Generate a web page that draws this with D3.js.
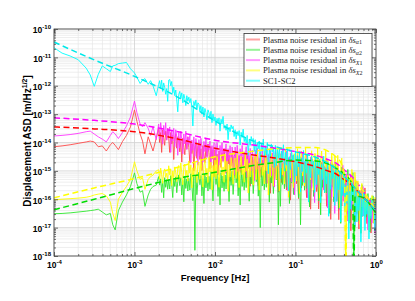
<!DOCTYPE html>
<html><head><meta charset="utf-8">
<script src="https://cdn.jsdelivr.net/npm/d3@7"></script>
<style>body{margin:0;background:#fff}svg{display:block}</style>
</head><body>
<svg id="c" width="415" height="301"></svg>
<script>
// ---------- DATA (log10 of frequency in Hz, log10 of ASD in m/Hz^1/2) ----------
const lowLogF = [-4,-3.9,-3.8,-3.7,-3.6,-3.55,-3.5,-3.45,-3.4,-3.35,-3.3,-3.27,-3.24,-3.2,-3.15,-3.1,-3.05,-3,-2.97,-2.93,-2.9,-2.87,-2.83,-2.8,-2.77,-2.73];
const midLogF = [
-2.7,-2.6875,-2.675,-2.6625,-2.65,-2.6375,-2.625,-2.6125,-2.6,-2.5875,
-2.575,-2.5625,-2.55,-2.5375,-2.525,-2.5125,-2.5,-2.4875,-2.475,-2.4625,
-2.45,-2.4375,-2.425,-2.4125,-2.4,-2.3875,-2.375,-2.3625,-2.35,-2.3375,
-2.325,-2.3125,-2.3,-2.2875,-2.275,-2.2625,-2.25,-2.2375,-2.225,-2.2125,
-2.2,-2.1875,-2.175,-2.1625,-2.15,-2.1375,-2.125,-2.1125,-2.1,-2.0875,
-2.075,-2.0625,-2.05,-2.0375,-2.025,-2.0125];
const highLogF = [
-2,-1.9875,-1.975,-1.9625,-1.95,-1.9375,-1.925,-1.9125,-1.9,-1.8875,
-1.875,-1.8625,-1.85,-1.8375,-1.825,-1.8125,-1.8,-1.7875,-1.775,-1.7625,
-1.75,-1.7375,-1.725,-1.7125,-1.7,-1.6875,-1.675,-1.6625,-1.65,-1.6375,
-1.625,-1.6125,-1.6,-1.5875,-1.575,-1.5625,-1.55,-1.5375,-1.525,-1.5125,
-1.5,-1.4875,-1.475,-1.4625,-1.45,-1.4375,-1.425,-1.4125,-1.4,-1.3875,
-1.375,-1.3625,-1.35,-1.3375,-1.325,-1.3125,-1.3,-1.2875,-1.275,-1.2625,
-1.25,-1.2375,-1.225,-1.2125,-1.2,-1.1875,-1.175,-1.1625,-1.15,-1.1375,
-1.125,-1.1125,-1.1,-1.0875,-1.075,-1.0625,-1.05,-1.0375,-1.025,-1.0125,
-1,-0.9875,-0.975,-0.9625,-0.95,-0.9375,-0.925,-0.9125,-0.9,-0.8875,
-0.875,-0.8625,-0.85,-0.8375,-0.825,-0.8125,-0.8,-0.7875,-0.775,-0.7625,
-0.75,-0.7375,-0.725,-0.7125,-0.7,-0.6875,-0.675,-0.6625,-0.65,-0.6375,
-0.625,-0.6125,-0.6,-0.5875,-0.575,-0.5625,-0.55,-0.5375,-0.525,-0.5125,
-0.5,-0.4875,-0.475,-0.4625,-0.45,-0.4375,-0.425,-0.4125,-0.4,-0.3875,
-0.375,-0.3625,-0.35,-0.3375,-0.325,-0.3125,-0.3,-0.2875,-0.275,-0.2625,
-0.25,-0.2375,-0.225,-0.2125,-0.2,-0.1875,-0.175,-0.1625,-0.15,-0.1375,
-0.125,-0.1125,-0.1,-0.0875,-0.075,-0.0625,-0.05,-0.0375,-0.025,-0.0125,
0];

// red: plasma noise residual in δs_α1
const redLow = [-14.15,-14.12,-14.08,-14.03,-13.98,-13.95,-13.98,-14.15,-14.12,-14.3,-14.08,-14.0,-14.1,-14.25,-13.97,-13.75,-13.45,-12.85,-13.25,-13.7,-13.95,-14.4,-13.8,-14.05,-14.3,-13.85];
const redMid = [
-13.5,-14.0,-13.65,-14.35,-13.55,-13.85,-14.1,-13.6,-13.9,-13.5,
-13.85,-14.35,-13.65,-14.05,-13.75,-14.6,-13.9,-13.7,-14.2,-13.8,
-13.8,-14.33,-13.96,-14.69,-13.85,-14.17,-14.43,-13.91,-14.22,-13.8,
-14.17,-14.72,-13.95,-14.39,-14.06,-15.0,-14.23,-14.01,-14.56,-14.12,
-14.05,-14.6,-14.22,-14.99,-14.11,-14.44,-14.71,-14.16,-14.49,-14.05,
-14.37,-14.92,-14.15,-14.59,-14.26,-15.2];
const redHigh = [
-14.25,-14.78,-14.41,-15.14,-14.3,-14.62,-14.88,-14.36,-14.67,-14.25,
-14.54,-15.09,-14.32,-14.76,-14.43,-15.37,-14.6,-14.38,-14.93,-14.49,
-14.4,-14.95,-14.57,-15.34,-14.46,-14.79,-15.06,-14.51,-14.84,-14.4,
-14.68,-15.26,-14.45,-14.91,-14.57,-15.54,-14.74,-14.51,-15.08,-14.62,
-14.5,-15.1,-14.68,-15.52,-14.56,-14.92,-15.22,-14.62,-14.98,-14.5,
-14.81,-15.46,-14.55,-15.07,-14.68,-15.79,-14.88,-14.62,-15.27,-14.75,
-14.6,-15.28,-14.8,-15.75,-14.67,-15.07,-15.41,-14.74,-15.14,-14.6,
-14.94,-15.67,-14.65,-15.23,-14.8,-16.03,-15.01,-14.72,-15.45,-14.87,
-14.7,-15.45,-14.93,-15.98,-14.78,-15.23,-15.6,-14.85,-15.3,-14.7,
-15.11,-15.94,-14.78,-15.44,-14.95,-16.35,-15.19,-14.86,-15.69,-15.03,
-14.85,-15.73,-15.11,-16.34,-14.94,-15.46,-15.9,-15.03,-15.55,-14.85,
-15.32,-16.25,-14.95,-15.69,-15.14,-16.71,-15.41,-15.04,-15.97,-15.23,
-15.1,-16.05,-15.39,-16.72,-15.2,-15.77,-16.24,-15.29,-15.86,-15.1,
-15.68,-16.63,-15.3,-16.06,-15.49,-17.11,-15.78,-15.4,-16.35,-15.59,
-15.6,-16.45,-15.86,-17.05,-15.69,-16.2,-16.62,-15.77,-16.28,-15.6,
-16.21,-16.86,-15.95,-16.47,-16.08,-17.19,-16.28,-16.02,-16.67,-16.15,
-16.2];

// green: δs_α2
const greenLow = [-16.51,-16.5,-16.48,-16.45,-16.42,-16.4,-16.38,-16.35,-16.45,-16.55,-16.5,-16.9,-17.08,-16.4,-16.1,-15.85,-15.55,-15.07,-15.45,-15.75,-15.7,-16.25,-15.85,-15.65,-15.55,-15.5];
const greenMid = [
-15.2,-15.5,-15.28,-15.76,-15.35,-15.95,-15.24,-15.58,-15.31,-15.65,
-15.3,-15.64,-15.17,-15.47,-15.94,-15.26,-15.55,-15.21,-15.77,-15.38,
-15.14,-15.52,-15.24,-15.85,-15.33,-16.09,-15.19,-15.62,-15.28,-15.71,
-15.26,-15.68,-15.1,-15.47,-16.05,-15.21,-17.8,-15.15,-15.84,-15.36,
-15.05,-15.49,-15.16,-15.88,-15.27,-16.15,-15.11,-15.6,-15.22,-15.71,
-15.19,-15.65,-15.02,-15.42,-16.06,-15.14];
const greenHigh = [
-15.0,-15.48,-15.12,-15.9,-15.24,-16.2,-15.06,-15.6,-15.18,-15.72,
-15.14,-15.64,-14.95,-15.39,-16.08,-15.08,-15.51,-15.01,-15.83,-15.26,
-14.9,-15.42,-15.03,-15.88,-15.16,-16.2,-14.97,-15.55,-15.1,-15.68,
-15.05,-15.59,-14.85,-15.32,-16.07,-14.99,-15.46,-14.92,-15.8,-15.19,
-14.8,-15.38,-14.95,-15.89,-15.09,-17.0,-14.87,-15.53,-15.02,-15.67,
-14.98,-15.58,-14.75,-15.28,-16.1,-14.9,-15.43,-14.83,-15.8,-15.13,
-14.7,-15.32,-14.86,-16.9,-15.01,-16.25,-14.78,-15.48,-14.93,-15.63,
-14.92,-15.58,-14.67,-15.25,-16.15,-14.84,-15.41,-14.75,-15.83,-15.08,
-14.63,-15.33,-14.81,-15.94,-14.98,-16.9,-14.72,-15.51,-14.89,-15.68,
-14.88,-15.62,-14.6,-15.25,-16.27,-14.79,-15.43,-14.69,-15.9,-15.06,
-14.6,-15.38,-14.8,-16.06,-14.99,-16.55,-14.7,-15.58,-14.89,-15.77,
-14.96,-15.78,-14.65,-15.37,-16.5,-14.86,-15.57,-14.75,-16.09,-15.16,
-14.75,-15.59,-14.96,-16.33,-15.17,-16.85,-14.86,-15.8,-15.07,-16.01,
-15.27,-16.11,-14.95,-15.69,-16.84,-15.16,-15.9,-15.06,-18.5,-15.48,
-15.4,-16.12,-15.58,-16.75,-15.76,-17.2,-15.49,-16.3,-15.67,-16.48,
-16.03,-16.63,-15.8,-16.33,-17.15,-15.95,-16.48,-15.88,-16.85,-16.18,
-16.1];

// magenta: δs_X1
const magentaLow = [-13.77,-13.75,-13.72,-13.68,-13.62,-13.6,-13.7,-13.8,-13.88,-13.98,-13.75,-13.62,-13.7,-13.86,-13.65,-13.42,-13.1,-12.54,-12.95,-13.35,-13.45,-13.3,-13.5,-13.75,-13.45,-13.9];
const magentaMid = [
-13.35,-13.87,-13.3,-13.59,-14.06,-13.4,-13.73,-13.3,-13.92,-13.49,
-13.75,-13.45,-14.35,-13.6,-13.95,-13.5,-14.15,-13.55,-13.8,-14.45,
-13.65,-14.2,-13.6,-13.9,-14.4,-13.7,-14.05,-13.6,-14.25,-13.8,
-14.07,-13.75,-14.7,-13.91,-14.28,-13.8,-14.49,-13.86,-14.12,-14.8,
-13.9,-14.48,-13.85,-14.17,-14.69,-13.96,-14.32,-13.85,-14.53,-14.06,
-14.27,-13.95,-14.9,-14.11,-14.48,-14.0];
const magentaHigh = [
-14.05,-14.6,-14.0,-14.3,-14.8,-14.1,-14.45,-14.0,-14.65,-14.2,
-14.38,-14.05,-15.04,-14.22,-14.6,-14.11,-14.82,-14.16,-14.44,-15.15,
-14.16,-14.79,-14.1,-14.45,-15.02,-14.22,-14.62,-14.1,-14.85,-14.33,
-14.51,-14.15,-15.23,-14.33,-14.75,-14.21,-14.99,-14.27,-14.57,-15.35,
-14.26,-14.95,-14.2,-14.58,-15.2,-14.33,-14.76,-14.2,-15.01,-14.45,
-14.63,-14.22,-15.44,-14.42,-14.9,-14.29,-15.17,-14.36,-14.69,-15.57,
-14.32,-15.12,-14.25,-14.69,-15.41,-14.4,-14.9,-14.25,-15.19,-14.54,
-14.77,-14.3,-15.7,-14.53,-15.08,-14.38,-15.39,-14.46,-14.84,-15.85,
-14.43,-15.31,-14.35,-14.83,-15.63,-14.51,-15.07,-14.35,-15.39,-14.67,
-14.93,-14.42,-15.95,-14.68,-15.27,-14.51,-15.61,-14.59,-15.02,-16.12,
-14.59,-15.58,-14.5,-15.04,-15.94,-14.68,-15.31,-14.5,-15.67,-14.86,
-15.17,-14.6,-16.31,-14.89,-15.55,-14.7,-15.93,-14.79,-15.27,-16.5,
-14.9,-15.97,-14.8,-15.39,-16.36,-15.0,-15.68,-14.8,-16.07,-15.19,
-15.66,-15.1,-16.77,-15.38,-16.03,-15.19,-16.4,-15.29,-15.75,-16.95,
-15.63,-16.51,-15.55,-16.03,-16.83,-15.71,-16.27,-15.55,-16.59,-15.87,
-16.36,-16.0,-17.08,-16.18,-16.6,-16.06,-16.84,-16.12,-16.42,-17.2,
-16.3];

// yellow: δs_X2
const yellowLow = [-16.02,-16.0,-15.98,-15.96,-15.93,-15.9,-15.85,-15.82,-15.8,-15.88,-16.1,-16.5,-16.75,-16.0,-15.75,-15.55,-15.3,-14.68,-15.0,-15.3,-15.25,-15.65,-15.3,-15.2,-15.15,-15.0];
const yellowMid = [
-14.96,-15.29,-14.9,-15.14,-15.44,-15.02,-14.93,-15.23,-15.08,-15.35,
-14.82,-15.14,-14.93,-15.52,-15.0,-15.24,-14.86,-15.07,-15.38,-14.89,
-14.81,-15.27,-14.72,-15.06,-15.49,-14.89,-14.76,-15.19,-14.98,-15.36,
-14.65,-15.08,-14.79,-15.6,-14.89,-15.22,-14.7,-14.98,-15.41,-14.75,
-14.69,-15.3,-14.58,-15.02,-15.57,-14.8,-14.64,-15.19,-14.91,-15.41,
-14.52,-15.04,-14.69,-15.67,-14.81,-15.21];
const yellowHigh = [
-14.62,-15.28,-14.5,-14.98,-15.58,-14.74,-14.56,-15.16,-14.86,-15.4,
-14.47,-15.03,-14.66,-15.72,-14.78,-15.22,-14.53,-14.91,-15.47,-14.6,
-14.55,-15.27,-14.42,-14.94,-15.59,-14.68,-14.49,-15.14,-14.81,-15.4,
-14.38,-15.01,-14.59,-15.78,-14.73,-15.22,-14.45,-14.87,-15.5,-14.52,
-14.48,-15.31,-14.33,-14.93,-15.68,-14.63,-14.41,-15.16,-14.78,-15.46,
-14.3,-15.0,-14.53,-15.85,-14.69,-15.23,-14.38,-14.84,-15.54,-14.46,
-14.42,-15.3,-14.26,-14.9,-15.7,-14.58,-14.34,-15.14,-14.74,-15.46,
-14.23,-15.0,-14.49,-15.93,-14.66,-15.25,-14.32,-14.83,-15.59,-14.4,
-14.4,-15.36,-14.22,-14.92,-15.8,-14.57,-14.31,-15.18,-14.75,-15.53,
-14.2,-15.03,-14.48,-16.05,-14.66,-15.31,-14.29,-14.85,-15.68,-14.39,
-14.4,-15.47,-14.2,-14.98,-15.96,-14.59,-14.3,-15.27,-14.79,-15.66,
-14.27,-15.19,-14.58,-16.32,-14.78,-15.5,-14.37,-14.99,-15.91,-14.48,
-14.66,-15.78,-14.45,-15.27,-16.3,-14.86,-14.55,-15.58,-15.07,-15.99,
-18.5,-15.75,-15.15,-16.85,-15.35,-16.05,-14.95,-15.55,-16.45,-15.05,
-15.52,-16.46,-15.35,-16.03,-16.88,-15.69,-15.44,-16.29,-15.86,-16.63,
-15.8,-16.39,-16.0,-17.1,-16.13,-16.58,-15.87,-16.26,-16.84,-15.93,
-16.1];

// cyan: SC1-SC2
const cyanLow = [-10.66,-10.85,-10.95,-11.08,-11.38,-11.62,-12.02,-11.6,-11.3,-11.4,-11.5,-11.3,-11.28,-11.22,-11.2,-11.18,-11.4,-11.55,-11.7,-11.92,-11.8,-11.75,-11.95,-11.82,-12.0,-12.35];
const cyanMid = [
-11.95,-11.82,-12.1,-11.8,-12.2,-11.9,-12.05,-12.3,-12.1,-12.55,
-11.8,-11.78,-12.0,-11.85,-12.25,-12.05,-12.35,-12.15,-12.5,-12.92,
-12.3,-12.2,-12.45,-12.25,-12.6,-12.3,-12.45,-12.7,-12.35,-12.55,
-12.4,-12.6,-12.45,-12.75,-13.42,-12.55,-12.7,-12.5,-12.85,-12.6,
-12.65,-12.9,-12.7,-13.0,-12.75,-13.1,-12.8,-12.95,-13.2,-12.85,
-12.95,-13.15,-12.9,-13.3,-13.0,-13.25];
const cyanHigh = [
-13.1,-13.4,-13.15,-13.3,-13.13,-13.6,-13.18,-13.35,-13.08,-13.5,
-13.4,-13.57,-13.35,-13.9,-13.46,-13.62,-13.38,-13.52,-13.43,-13.79,
-13.55,-13.88,-13.61,-13.76,-13.58,-14.09,-13.64,-13.82,-13.53,-13.97,
-13.82,-14.03,-13.75,-14.45,-13.89,-14.1,-13.79,-13.96,-13.86,-14.31,
-13.9,-14.4,-13.99,-14.22,-13.95,-14.71,-14.04,-14.31,-13.88,-14.53,
-14.11,-14.44,-14.0,-15.1,-14.22,-14.55,-14.06,-14.33,-14.17,-14.88,
-14.1,-14.82,-14.23,-14.56,-14.17,-15.27,-14.3,-14.69,-14.08,-15.01,
-14.35,-14.8,-14.2,-15.7,-14.5,-14.95,-14.28,-14.65,-14.43,-15.4,
-14.3,-15.18,-14.46,-14.86,-14.38,-15.74,-14.54,-15.02,-14.28,-15.42,
-14.57,-15.08,-14.4,-16.1,-14.74,-15.25,-14.49,-14.91,-14.66,-15.76,
-14.5,-15.49,-14.68,-15.13,-14.59,-16.12,-14.77,-15.31,-14.48,-15.76,
-14.89,-15.46,-14.7,-16.6,-15.08,-15.65,-14.8,-15.27,-14.99,-16.22,
-14.95,-16.08,-15.16,-15.67,-15.05,-16.8,-15.26,-15.87,-14.93,-16.39,
-15.51,-16.14,-15.3,-17.4,-15.72,-16.35,-15.41,-15.93,-15.62,-16.98,
-15.7,-16.8,-15.9,-16.4,-15.8,-17.5,-16.0,-16.6,-15.68,-17.1,
-16.1,-16.53,-15.95,-17.4,-16.24,-16.68,-16.02,-16.39,-16.17,-17.11,
-16.05];

// model (dashed) curves
const dashLogF = [-4,-3.5,-3,-2.5,-2,-1.5,-1.25,-1,-0.75,-0.6,-0.5,-0.4,-0.3,-0.2,-0.1,0];
const redDash = [-13.45,-13.52,-13.62,-13.85,-14.2,-14.45,-14.55,-14.68,-14.85,-15.0,-15.1,-15.3,-15.5,-15.8,-16.1,-16.45];
const magentaDash = [-13.13,-13.22,-13.35,-13.6,-13.92,-14.1,-14.2,-14.32,-14.45,-14.6,-14.72,-14.95,-15.2,-15.55,-15.95,-16.4];
const cyanDash = [-10.46,-11.09,-11.67,-12.34,-13.24,-13.97,-14.15,-14.33,-14.52,-14.72,-14.92,-15.18,-15.48,-15.8,-16.1,-16.4];
const yellowDashLogF = [-4,-3.5,-3,-2.5,-2,-1.5,-1.25,-1,-0.75,-0.6,-0.5,-0.42,-0.39,-0.375,-0.36,-0.3,-0.2,-0.1,0];
const yellowDash = [-15.95,-15.6,-15.27,-14.9,-14.5,-14.3,-14.22,-14.18,-14.18,-14.3,-14.5,-14.8,-15.3,-18.5,-15.6,-15.25,-15.55,-15.95,-16.4];
const greenDashLogF = [-4,-3.5,-3,-2.5,-2,-1.5,-1.25,-1,-0.75,-0.6,-0.5,-0.4,-0.3,-0.29,-0.275,-0.26,-0.2,-0.1,0];
const greenDash = [-16.37,-16.0,-15.62,-15.28,-15.05,-14.8,-14.7,-14.62,-14.65,-14.75,-14.9,-15.1,-15.45,-15.75,-18.5,-15.9,-15.9,-16.1,-16.5];

const legendSubs = ["\u03b11","\u03b12","X1","X2",null];
const xTickExp = [-4,-3,-2,-1,0];
const yTickExp = [-18,-17,-16,-15,-14,-13,-12,-11,-10];

// ---------- LAYOUT ----------
const L=54,R=376,T=29,B=256;
const svg=d3.select("#c");
const x=d3.scaleLog().domain([1e-4,1]).range([L,R]);
const y=d3.scaleLog().domain([1e-18,1e-10]).range([B,T]);
const p10=e=>Math.pow(10,e);

svg.append("rect").attr("width",415).attr("height",301).attr("fill","#fff");
svg.append("rect").attr("x",L).attr("y",T).attr("width",R-L).attr("height",B-T).attr("fill","#fff");

// grid
const xMinor=[],yMinor=[];
for(let n=-4;n<0;n++)for(let k=2;k<10;k++)xMinor.push(k*p10(n));
for(let n=-18;n<-10;n++)for(let k=2;k<10;k++)yMinor.push(k*p10(n));
const xMajor=xTickExp.map(p10), yMajor=yTickExp.map(p10);
const grid=svg.append("g");
grid.selectAll(".xm").data(xMinor).join("line").attr("x1",d=>x(d)).attr("x2",d=>x(d)).attr("y1",T).attr("y2",B).attr("stroke","#e6e6e6").attr("stroke-width",0.7);
grid.selectAll(".ym").data(yMinor).join("line").attr("y1",d=>y(d)).attr("y2",d=>y(d)).attr("x1",L).attr("x2",R).attr("stroke","#e6e6e6").attr("stroke-width",0.7);
grid.selectAll(".xM").data(xMajor).join("line").attr("x1",d=>x(d)).attr("x2",d=>x(d)).attr("y1",T).attr("y2",B).attr("stroke","#d2d2d2").attr("stroke-width",0.8);
grid.selectAll(".yM").data(yMajor).join("line").attr("y1",d=>y(d)).attr("y2",d=>y(d)).attr("x1",L).attr("x2",R).attr("stroke","#d2d2d2").attr("stroke-width",0.8);

// clip
svg.append("clipPath").attr("id","clip").append("rect").attr("x",L).attr("y",T).attr("width",R-L).attr("height",B-T);
const plot=svg.append("g").attr("clip-path","url(#clip)");

const line=d3.line().x(d=>x(d[0])).y(d=>y(d[1]));
const smooth=d3.line().x(d=>x(d[0])).y(d=>y(d[1])).curve(d3.curveMonotoneX);
const fullF=lowLogF.concat(midLogF,highLogF);
const mk=(fs,vs)=>fs.map((f,i)=>[p10(f),p10(vs[i])]);

const solids=[
 {c:"#ff4a4a",v:redLow.concat(redMid,redHigh)},
 {c:"#2ee82e",v:greenLow.concat(greenMid,greenHigh)},
 {c:"#ff38ff",v:magentaLow.concat(magentaMid,magentaHigh)},
 {c:"#ffff00",v:yellowLow.concat(yellowMid,yellowHigh)},
 {c:"#00ffff",v:cyanLow.concat(cyanMid,cyanHigh)}
];
solids.forEach(s=>{
 plot.append("path").datum(mk(fullF,s.v)).attr("d",line).attr("fill","none").attr("stroke",s.c).attr("stroke-width",0.9).attr("stroke-linejoin","round");
});
const dashes=[
 {c:"#ff0000",f:dashLogF,v:redDash},
 {c:"#00dd00",f:greenDashLogF,v:greenDash},
 {c:"#ff00ff",f:dashLogF,v:magentaDash},
 {c:"#ffff00",f:yellowDashLogF,v:yellowDash},
 {c:"#00e8e8",f:dashLogF,v:cyanDash}
];
dashes.forEach(s=>{
 plot.append("path").datum(mk(s.f,s.v)).attr("d",smooth).attr("fill","none").attr("stroke",s.c).attr("stroke-width",1.5).attr("stroke-dasharray","6,3.5");
});

// axes
const fontSans="'Liberation Sans', Arial, Helvetica, sans-serif";
function supLabels(sel,anchor){
 sel.selectAll(".tick text").each(function(d){
  const t=d3.select(this); t.text("");
  t.attr("font-family",fontSans).attr("font-weight","bold").attr("font-size",8.5).attr("fill","#000").attr("text-anchor",anchor);
  t.append("tspan").text("10");
  t.append("tspan").attr("dy",-4).attr("font-size",6).text(String(Math.round(Math.log10(d))));
 });
}
function styleAx(g){g.select(".domain").remove();g.selectAll(".tick line").attr("stroke","#333").attr("stroke-width",0.7);}
const gxb=svg.append("g").attr("transform",`translate(0,${B})`).call(d3.axisBottom(x).tickValues(xMajor).tickSizeInner(-4).tickSizeOuter(0).tickPadding(6));
styleAx(gxb); supLabels(gxb,"middle");
const gxbm=svg.append("g").attr("transform",`translate(0,${B})`).call(d3.axisBottom(x).tickValues(xMinor).tickSizeInner(-2).tickSizeOuter(0).tickFormat(()=>""));
styleAx(gxbm);
const gxt=svg.append("g").attr("transform",`translate(0,${T})`).call(d3.axisTop(x).tickValues(xMajor).tickSizeInner(-4).tickSizeOuter(0).tickFormat(()=>""));
styleAx(gxt);
const gxtm=svg.append("g").attr("transform",`translate(0,${T})`).call(d3.axisTop(x).tickValues(xMinor).tickSizeInner(-2).tickSizeOuter(0).tickFormat(()=>""));
styleAx(gxtm);
const gyl=svg.append("g").attr("transform",`translate(${L},0)`).call(d3.axisLeft(y).tickValues(yMajor).tickSizeInner(-4).tickSizeOuter(0).tickPadding(3));
styleAx(gyl); supLabels(gyl,"end"); gyl.selectAll(".tick text").attr("dy","0.45em");
const gylm=svg.append("g").attr("transform",`translate(${L},0)`).call(d3.axisLeft(y).tickValues(yMinor).tickSizeInner(-2).tickSizeOuter(0).tickFormat(()=>""));
styleAx(gylm);
const gyr=svg.append("g").attr("transform",`translate(${R},0)`).call(d3.axisRight(y).tickValues(yMajor).tickSizeInner(-4).tickSizeOuter(0).tickFormat(()=>""));
styleAx(gyr);
const gyrm=svg.append("g").attr("transform",`translate(${R},0)`).call(d3.axisRight(y).tickValues(yMinor).tickSizeInner(-2).tickSizeOuter(0).tickFormat(()=>""));
styleAx(gyrm);
svg.append("rect").attr("x",L).attr("y",T).attr("width",R-L).attr("height",B-T).attr("fill","none").attr("stroke","#444").attr("stroke-width",0.8);

// axis titles
svg.append("text").attr("x",(L+R)/2).attr("y",281).attr("text-anchor","middle").attr("font-family",fontSans).attr("font-weight","bold").attr("font-size",9.5).text("Frequency [Hz]");
const yl=svg.append("text").attr("transform","translate(31,141) rotate(-90)").attr("text-anchor","middle").attr("font-family",fontSans).attr("font-weight","bold").attr("font-size",10);
yl.append("tspan").text("Displacement ASD [m/Hz");
yl.append("tspan").attr("dy",-4).attr("font-size",7).text("1/2");
yl.append("tspan").attr("dy",4).text("]");

// legend
const lg=svg.append("g");
lg.append("rect").attr("x",244).attr("y",33.5).attr("width",128).attr("height",53).attr("fill","#fff").attr("stroke","#333").attr("stroke-width",0.8);
const fontSerif="'Liberation Serif','Times New Roman',serif";
solids.forEach((s,i)=>{
 const yy=39.5+i*10.3;
 lg.append("line").attr("x1",246).attr("x2",260).attr("y1",yy).attr("y2",yy).attr("stroke",s.c).attr("stroke-width",2).attr("stroke-opacity",0.5);
 const t=lg.append("text").attr("x",263).attr("y",yy+3).attr("font-family",fontSerif).attr("font-size",8.6).attr("fill","#222");
 if(legendSubs[i]){
  t.append("tspan").text("Plasma noise residual in ");
  t.append("tspan").attr("font-style","italic").text("\u03b4s");
  const sub=legendSubs[i];
  t.append("tspan").attr("dy",1.8).attr("font-size",6).attr("font-style","italic").text(sub[0]);
  t.append("tspan").attr("font-size",6).text(sub[1]);
 } else {
  t.text("SC1-SC2");
 }
});
</script>
</body></html>
